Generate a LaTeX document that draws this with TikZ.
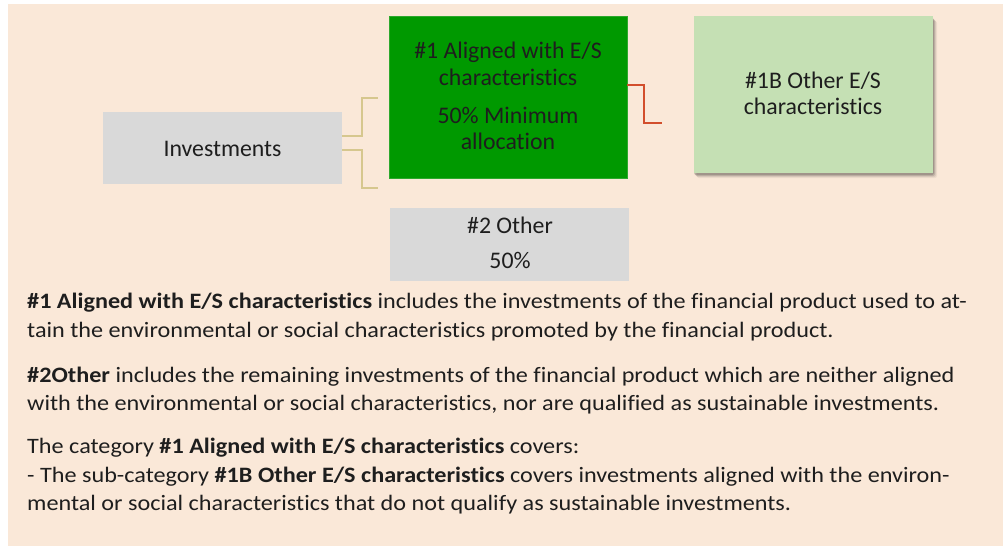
\documentclass[tikz,border=0pt]{standalone}
\usepackage{fontspec}
\setmainfont{Carlito}[Ligatures=NoCommon]
\newfontfamily\parafont{Carlito}[Ligatures=NoCommon, FakeStretch=1.1]
\usetikzlibrary{calc}
\definecolor{bg}{HTML}{FAE8D8}
\definecolor{boxgray}{HTML}{D9D9D9}
\definecolor{dgreen}{HTML}{009900}
\definecolor{dgreenedge}{HTML}{2DA82D}
\definecolor{lgreen}{HTML}{C5E0B4}
\definecolor{tanline}{HTML}{D6C78E}
\definecolor{redline}{HTML}{D24E2C}
\definecolor{txt}{HTML}{1E1E1E}
\tikzset{
  boxshape/.style={rectangle, inner sep=0pt, outer sep=0pt, anchor=north west},
  boxtext/.style={inner sep=0pt, anchor=base, text=txt, font=\fontsize{23.8}{27}\selectfont},
  para/.style={inner sep=0pt, anchor=base west, text=txt, font=\parafont\fontsize{22}{28}\selectfont},
  tanconn/.style={draw=tanline, line width=1.4pt},
  redconn/.style={draw=redline, line width=1.6pt},
}
\begin{document}
\begin{tikzpicture}[x=1pt,y=-1pt]
\useasboundingbox (0,0) rectangle (1003,546);
\fill[bg] (8,4) rectangle (1003,546);

% boxes
\node[boxshape, fill=boxgray, minimum width=239pt, minimum height=72pt] (inv) at (103,112) {};
\node[boxshape, fill=dgreen, draw=dgreenedge, line width=0.6pt, minimum width=238pt, minimum height=162pt] (aligned) at (389,16) {};
\foreach \o/\op in {5/0.05,4/0.08,3/0.12,2/0.16}{
  \fill[black, opacity=\op, rounded corners=2pt] (694+\o-2,16+\o) rectangle (933+\o-1,173+\o);
}
\node[boxshape, fill=lgreen, minimum width=239pt, minimum height=157pt] (other1b) at (694,16) {};
\node[boxshape, fill=boxgray, minimum width=239pt, minimum height=73pt] (other2) at (390,208) {};

% box texts
\node[boxtext] (invt) at (222.5,156) {Investments};
\node[boxtext] (al1) at (508,58) {\#1 Aligned with E/S};
\node[boxtext] (al2) at (508,85) {characteristics};
\node[boxtext] (al3) at (508,123) {50\% Minimum};
\node[boxtext] (al4) at (508,149) {allocation};
\node[boxtext] (ob1) at (813,88) {\#1B Other E/S};
\node[boxtext] (ob2) at (813,114) {characteristics};
\node[boxtext] (ot1) at (510,233) {\#2 Other};
\node[boxtext] (ot2) at (510,268) {50\%};

% connectors
\coordinate (tanA) at (378,98);
\coordinate (tanB) at (378,188);
\coordinate (redA) at (662,123);
\draw[tanconn] ($(inv.east)+(0,-12)$) -| ($(inv.east)+(20,-50)$) -- (tanA);
\draw[tanconn] ($(inv.east)+(0,2)$) -| ($(inv.east)+(20,40)$) -- (tanB);
\draw[redconn] ($(aligned.north east)+(0,69)$) -| ($(aligned.north east)+(17,107)$) -- (redA);

% paragraphs
\node[para] (p1) at (27,308) {\textbf{\#1 Aligned with E/S characteristics} includes the investments of the financial product used to at-};
\node[para] (p2) at (27,337) {tain the environmental or social characteristics promoted by the financial product.};
\node[para] (p3) at (27,382) {\textbf{\#2Other} includes the remaining investments of the financial product which are neither aligned};
\node[para] (p4) at (27,410) {with the environmental or social characteristics, nor are qualified as sustainable investments.};
\node[para] (p5) at (27,453) {The category \textbf{\#1 Aligned with E/S characteristics} covers:};
\node[para] (p6) at (27,482) {- The sub-category \textbf{\#1B Other E/S characteristics} covers investments aligned with the environ-};
\node[para] (p7) at (27,510) {mental or social characteristics that do not qualify as sustainable investments.};
\end{tikzpicture}
\end{document}
